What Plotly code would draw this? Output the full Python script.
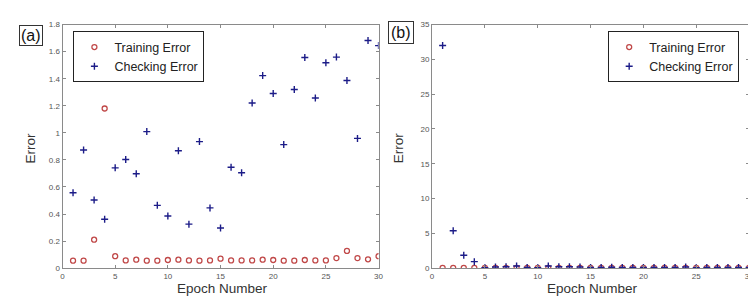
import plotly.graph_objects as go

epochs = list(range(1, 31))

train_a = [0.055, 0.055, 0.21, 1.18, 0.088, 0.057, 0.062, 0.055, 0.055, 0.06,
           0.062, 0.057, 0.055, 0.057, 0.07, 0.057, 0.057, 0.057, 0.062, 0.06,
           0.055, 0.055, 0.06, 0.057, 0.057, 0.074, 0.127, 0.074, 0.065, 0.088]
check_a = [0.557, 0.873, 0.504, 0.361, 0.741, 0.803, 0.698, 1.009, 0.464, 0.385,
           0.868, 0.325, 0.935, 0.445, 0.297, 0.746, 0.705, 1.22, 1.423, 1.291,
           0.913, 1.32, 1.557, 1.258, 1.518, 1.56, 1.387, 0.959, 1.683, 1.645]

train_b = [0.03, 0.03, 0.03, 0.03, 0.03, 0.03, 0.03, 0.03, 0.03, 0.03,
           0.03, 0.03, 0.03, 0.03, 0.03, 0.03, 0.03, 0.03, 0.03, 0.03,
           0.03, 0.03, 0.03, 0.03, 0.03, 0.03, 0.03, 0.03, 0.03, 0.03]
check_b = [32.0, 5.37, 1.85, 0.93, 0.05, 0.15, 0.2, 0.3, 0.1, 0.05,
           0.3, 0.2, 0.2, 0.15, 0.1, 0.1, 0.12, 0.1, 0.1, 0.08,
           0.1, 0.1, 0.1, 0.15, 0.05, 0.08, 0.1, 0.1, 0.1, 0.1]

x_ticks = [0, 5, 10, 15, 20, 25, 30]
y_ticks_a = [0, 0.2, 0.4, 0.6, 0.8, 1.0, 1.2, 1.4, 1.6, 1.8]
y_ticklabels_a = ["0", "0.2", "0.4", "0.6", "0.8", "1", "1.2", "1.4", "1.6", "1.8"]
y_ticks_b = [0, 5, 10, 15, 20, 25, 30, 35]

RED = "#c04848"
BLUE = "#1c1c88"
FONT = "Liberation Sans, Arial, sans-serif"
W, H = 756, 301

fig = go.Figure()

def add_panel(xa, ya, tr, ck, legend):
    fig.add_trace(go.Scatter(x=epochs, y=tr, mode="markers", name="Training Error",
                             xaxis=xa, yaxis=ya, legend=legend,
                             marker=dict(symbol="circle-open", size=5, color=RED, line=dict(width=1.3))))
    fig.add_trace(go.Scatter(x=epochs, y=ck, mode="markers", name="Checking Error",
                             xaxis=xa, yaxis=ya, legend=legend,
                             marker=dict(symbol="cross-thin-open", size=5, color=BLUE, line=dict(width=1.4, color=BLUE))))

add_panel("x", "y", train_a, check_a, "legend")
add_panel("x2", "y2", train_b, check_b, "legend2")

ydom = [1 - 264 / H, 1 - 13 / H]
axis_common = dict(showgrid=False, zeroline=False, showline=True, linecolor="#8a8a8a", linewidth=1,
                   mirror="ticks", ticks="inside", ticklen=3, tickcolor="#8a8a8a",
                   tickfont=dict(family=FONT, size=8, color="#555555"))

legend_common = dict(yanchor="top", bgcolor="white", bordercolor="#222222", borderwidth=1,
                     tracegroupgap=0, itemwidth=30,
                     font=dict(family=FONT, size=12.5, color="#222222"))

fig.update_layout(
    width=W, height=H,
    margin=dict(l=0, r=0, t=0, b=0),
    paper_bgcolor="white", plot_bgcolor="white",
    xaxis=dict(domain=[53 / W, 372 / W], range=[0, 30], tickvals=x_ticks, anchor="y", **axis_common),
    yaxis=dict(domain=ydom, range=[0, 1.8], tickvals=y_ticks_a, ticktext=y_ticklabels_a, anchor="x", **axis_common),
    xaxis2=dict(domain=[426 / W, 746 / W], range=[0, 30], tickvals=x_ticks, anchor="y2", **axis_common),
    yaxis2=dict(domain=ydom, range=[0, 35], tickvals=y_ticks_b, anchor="x2", **axis_common),
    legend=dict(x=64 / W, y=1 - 20 / H, xanchor="left", **legend_common),
    legend2=dict(x=736 / W, y=1 - 20 / H, xanchor="right", **legend_common),
    showlegend=True,
    font=dict(family=FONT),
)

for xc, txt in [(214 / W, "Epoch Number"), (588 / W, "Epoch Number")]:
    fig.add_annotation(x=xc, y=1 - 285 / H, xref="paper", yref="paper", text=txt, showarrow=False,
                       font=dict(family=FONT, size=13.5, color="#333333"), xanchor="center", yanchor="middle")
for xc in [21 / W, 392 / W]:
    fig.add_annotation(x=xc, y=1 - 140 / H, xref="paper", yref="paper", text="Error", showarrow=False,
                       textangle=-90, font=dict(family=FONT, size=13.5, color="#333333"),
                       xanchor="center", yanchor="middle")

fig.add_annotation(x=9 / W, y=1 - 13 / H, xref="paper", yref="paper", text="(a)", showarrow=False,
                   xanchor="left", yanchor="top", bordercolor="#333333", borderwidth=1, borderpad=1,
                   font=dict(family=FONT, size=16, color="#111111"), bgcolor="white")
fig.add_annotation(x=382 / W, y=1 - 9 / H, xref="paper", yref="paper", text="(b)", showarrow=False,
                   xanchor="left", yanchor="top", bordercolor="#333333", borderwidth=1, borderpad=2,
                   font=dict(family=FONT, size=16, color="#111111"), bgcolor="white")

fig.write_html("out.html")
